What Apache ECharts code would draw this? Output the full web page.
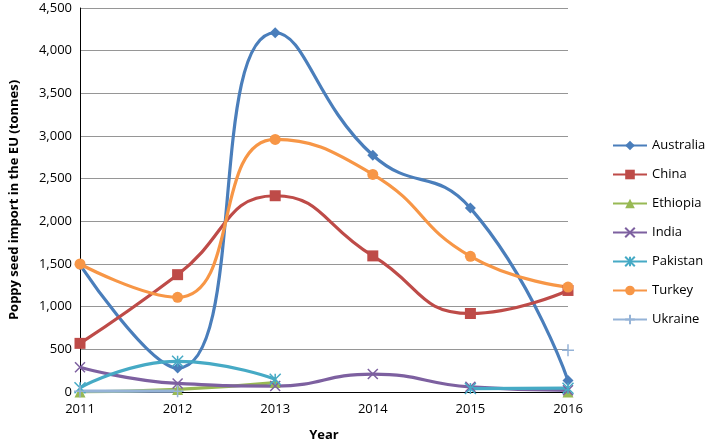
<!DOCTYPE html>
<html><head><meta charset="utf-8">
<script src="https://cdn.jsdelivr.net/npm/echarts@6/dist/echarts.min.js"></script>
<style>html,body{margin:0;padding:0;background:#fff}#c{width:709px;height:447px}</style>
</head><body><div id="c"></div>
<script>
const years = ['2011','2012','2013','2014','2015','2016'];
const australia = [1490, 280, 4210, 2775, 2155, 135];
const china = [570, 1375, 2300, 1595, 920, 1190];
const ethiopia = [0, 30, 110, null, null, 0];
const india = [290, 100, 70, 210, 60, 20];
const pakistan = [50, 360, 150, null, 40, 45];
const turkey = [1500, 1110, 2960, 2550, 1590, 1230];
const ukraine = [10, 10, null, null, null, 490];
const yTicks = [0, 500, 1000, 1500, 2000, 2500, 3000, 3500, 4000, 4500];

const xPath = 'path://M0,0 L10,10 M10,0 L0,10';
const astPath = 'path://M0,0 L10,10 M10,0 L0,10 M5,0 L5,10';
const plusPath = 'path://M5,0 L5,10 M0,5 L10,5';

function s(name, data, color, symbol, size, stroke) {
  return {
    name, type: 'line', data, smooth: 0.5, connectNulls: false,
    symbol, symbolSize: size, showSymbol: true,
    lineStyle: {color, width: 3.2},
    itemStyle: stroke ? {color: 'rgba(0,0,0,0)', borderColor: color, borderWidth: 1.5} : {color},
    emphasis: {disabled: true}
  };
}
const chart = echarts.init(document.getElementById('c'));
chart.setOption({
  animation: false,
  textStyle: {fontFamily: 'Open Sans'},
  grid: {left: 78, right: 141, top: 8, bottom: 53},
  legend: {
    orient: 'vertical', left: 607, top: 134, itemGap: 16, itemWidth: 34, itemHeight: 12,
    textStyle: {fontSize: 13, color: '#000', fontFamily: 'Open Sans'},
    data: ['Australia','China','Ethiopia','India','Pakistan','Turkey','Ukraine']
  },
  xAxis: {
    type: 'category', data: years, boundaryGap: false,
    name: 'Year', nameLocation: 'middle', nameGap: 37,
    nameTextStyle: {fontWeight: 'bold', fontSize: 13, color: '#000'},
    axisLine: {lineStyle: {color: '#000', width: 1}},
    axisTick: {show: false},
    axisLabel: {color: '#000', fontSize: 13, margin: 11},
    splitLine: {show: false}
  },
  yAxis: {
    type: 'value', min: 0, max: 4500, interval: 500,
    name: 'Poppy seed import in the EU (tonnes)', nameLocation: 'middle', nameGap: 59,
    nameTextStyle: {fontWeight: 'bold', fontSize: 13, color: '#000'},
    axisLine: {show: true, lineStyle: {color: '#000'}},
    axisTick: {show: false},
    axisLabel: {color: '#000', fontSize: 13, margin: 8,
      formatter: v => v.toLocaleString('en-US')},
    splitLine: {lineStyle: {color: '#969696', width: 1}}
  },
  series: [
    s('Australia', australia, '#4A7EBB', 'diamond', 11),
    s('China', china, '#BE4B48', 'rect', 11),
    s('Ethiopia', ethiopia, '#98B954', 'triangle', 11),
    s('India', india, '#7D60A0', xPath, 10, true),
    s('Pakistan', pakistan, '#46AAC5', astPath, 11, true),
    s('Turkey', turkey, '#F79646', 'circle', 11),
    s('Ukraine', ukraine, '#95B3D7', plusPath, 12, true)
  ]
});
</script></body></html>
